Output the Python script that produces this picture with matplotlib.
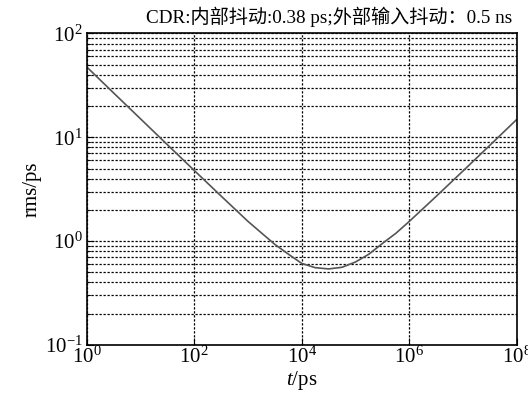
import numpy as np
import matplotlib.pyplot as plt
from matplotlib.ticker import LogLocator, NullLocator

# Data (log10 of t in ps, rms jitter in ps)
log_t = [0, 0.5, 1, 1.5, 2, 2.5, 3, 3.25, 3.5, 3.75, 4, 4.25, 4.5, 4.75,
         5, 5.25, 5.5, 5.75, 6, 6.5, 7, 7.5, 8]
rms = [47.7, 26.8, 15.1, 8.5, 4.8, 2.72, 1.55, 1.2, 0.93, 0.75, 0.61, 0.555,
       0.54, 0.56, 0.63, 0.75, 0.95, 1.19, 1.55, 2.7, 4.75, 8.4, 14.9]
x_ticks = [1e0, 1e2, 1e4, 1e6, 1e8]

title = "CDR:内部抖动:0.38 ps;外部输入抖动：0.5 ns"
fams = ['Liberation Serif', 'Noto Sans CJK SC']

plt.rcParams['font.family'] = fams
plt.rcParams['mathtext.fontset'] = 'custom'
plt.rcParams['mathtext.rm'] = 'Liberation Serif'
plt.rcParams['mathtext.it'] = 'Liberation Serif:italic'

fig = plt.figure(figsize=(5.28, 4.03), dpi=100)
ax = fig.add_axes([0.164, 0.144, 0.815, 0.773])

t = 10 ** np.array(log_t)
ax.plot(t, rms, color='#555555', lw=1.2)

ax.set_xscale('log')
ax.set_yscale('log')
ax.set_xlim(1, 1e8)
ax.set_ylim(0.1, 100)

ax.set_xticks(x_ticks)
ax.xaxis.set_minor_locator(NullLocator())
ax.yaxis.set_major_locator(LogLocator(base=10))
ax.yaxis.set_minor_locator(LogLocator(base=10, subs=np.arange(2, 10)))

ax.tick_params(which='both', direction='in', labelsize=15, colors='black')
ax.tick_params(which='major', length=5)
ax.tick_params(which='minor', length=3)
ax.tick_params(axis='x', pad=1)
ax.tick_params(axis='y', pad=3)

ax.grid(True, which='major', axis='both', color='black', ls=(0, (1.8, 1.4)), lw=0.9)
ax.grid(True, which='minor', axis='y', color='black', ls=(0, (1.8, 1.4)), lw=0.9)

for s in ax.spines.values():
    s.set_linewidth(1.2)

# title sits right of centre in the reference
fig.text(0.97, 0.932, title, fontsize=13.8, ha='right', va='bottom')
ax.set_xlabel('$t$/ps', fontsize=15, labelpad=1)
ax.set_ylabel('rms/ps', fontsize=15, labelpad=2)

fig.savefig('out.png', dpi=100)
